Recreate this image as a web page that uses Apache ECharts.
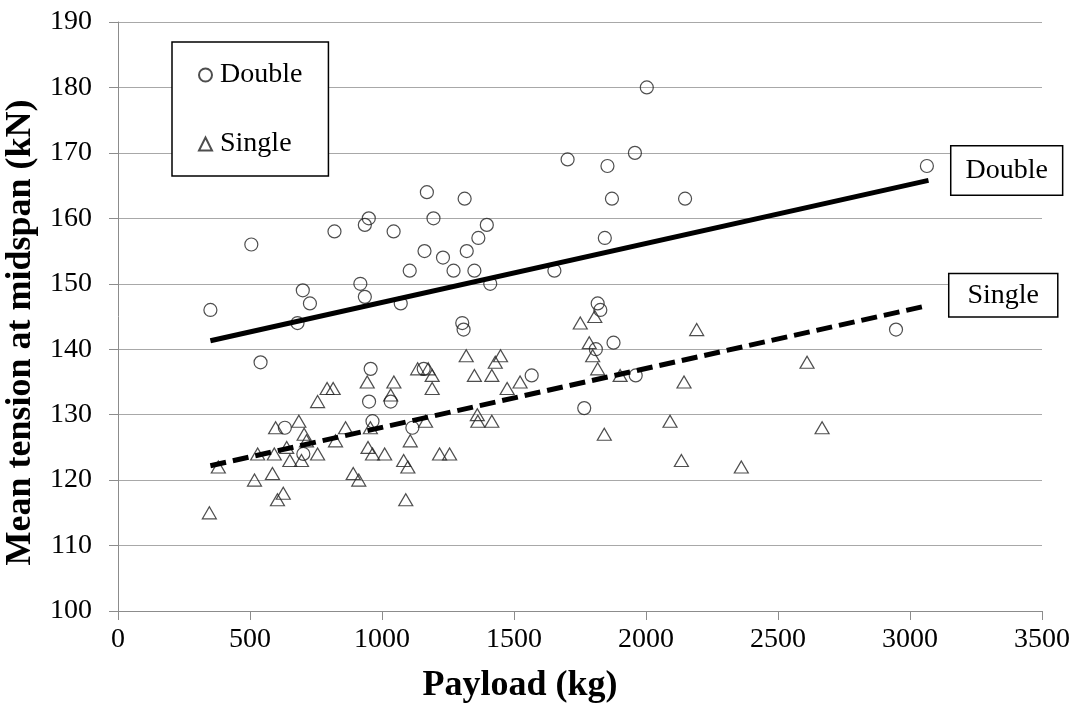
<!DOCTYPE html>
<html><head><meta charset="utf-8">
<script src="https://cdn.jsdelivr.net/npm/echarts@6/dist/echarts.min.js"></script>
<style>html,body{margin:0;padding:0;background:#fff}#c{width:1081px;height:708px}</style>
</head><body><div id="c"></div><script>
// Double-configuration points: payload (kg) and mean tension (kN)
const doublePayload = [350,505,540,680,700,727,820,918,935,935,950,1044,1071,1105,1170,1161,1195,1231,1271,1304,1309,1313,1321,1350,1365,1397,1410,1653,1703,1817,1827,1844,1854,1871,1958,2003,2148,3064,2947,1877,1766,1961,1567,1810,957,951,964,1033,1158,632,702,1115];
const doubleTension = [146,156,138,144,149,147,158,150,148,159,160,158,147,152,164,155,160,154,152,144,143,163,155,152,157,159,150,152,169,147,146,157,168,163,170,180,163,168,143,141,131,136,136,140,137,132,129,132,137,128,124,128];
// Single-configuration points
const singlePayload = [346,380,517,529,585,592,597,604,626,639,651,685,695,705,714,756,756,792,815,824,862,891,912,944,956,947,964,1010,1045,1033,1082,1098,1090,1107,1135,1165,1175,1190,1190,1218,1256,1319,1350,1361,1363,1416,1416,1429,1449,1474,1523,1751,1806,1785,1798,1817,1902,1842,2091,2134,2144,2192,2361,2610,2667];
const singleTension = [115,122,120,124,121,124,128,117,118,125,123,129,123,127,126,132,124,134,134,126,128,121,120,135,128,125,124,124,135,133,123,122,117,126,137,129,137,136,134,124,124,139,136,130,129,136,129,138,139,134,135,144,145,141,139,137,136,127,129,123,135,143,122,138,128];
// Trend line end points
const trendPayload = [350, 3070];
const doubleTrend = [141.3, 165.8];
const singleTrend = [122.2, 146.7];
const seriesNames = ['Double', 'Single'];
const xTitle = 'Payload (kg)';
const yTitle = 'Mean tension at midspan (kN)';

const FONT = 'Liberation Serif';
const zip = (a, b) => a.map((v, i) => [v, b[i]]);
const axisGray = '#8c8c8c';
const gridGray = '#a8a8a8';

const boxLabel = (text, pad, dist) => ({
  show: true,
  formatter: () => text,
  fontFamily: FONT, fontSize: 28, color: '#000',
  backgroundColor: '#fff', borderColor: '#000', borderWidth: 1.5,
  padding: pad, lineHeight: 32,
  distance: dist, offset: [0, -10]
});

const chart = echarts.init(document.getElementById('c'), null, {renderer: 'canvas'});
chart.setOption({
  animation: false,
  backgroundColor: '#fff',
  grid: {left: 118, right: 39, top: 22, bottom: 97, containLabel: false, outerBoundsMode: 'none'},
  legend: {
    data: seriesNames,
    orient: 'vertical', left: 172, top: 42,
    backgroundColor: '#fff', borderColor: '#000', borderWidth: 1.5,
    padding: [19, 26, 18, 26], itemGap: 41,
    itemWidth: 13, itemHeight: 13,
    selectedMode: false,
    textStyle: {fontFamily: FONT, fontSize: 28, color: '#000', padding: [0, 0, 0, 3]}
  },
  xAxis: {
    type: 'value', min: 0, max: 3500, interval: 500,
    axisLine: {show: true, lineStyle: {color: axisGray, width: 1}},
    axisTick: {show: true, length: 9, inside: false, lineStyle: {color: axisGray}},
    splitLine: {show: false},
    axisLabel: {fontFamily: FONT, fontSize: 28, color: '#000', margin: 15, formatter: v => String(v)},
    name: xTitle, nameLocation: 'middle', nameGap: 57,
    nameTextStyle: {fontFamily: FONT, fontSize: 36, fontWeight: 'bold', color: '#000', padding: [0, 120, 0, 0]}
  },
  yAxis: {
    type: 'value', min: 100, max: 190, interval: 10,
    axisLine: {show: true, lineStyle: {color: axisGray, width: 1}},
    axisTick: {show: true, length: 9, inside: false, lineStyle: {color: axisGray}},
    splitLine: {show: true, lineStyle: {color: gridGray, width: 1}},
    axisLabel: {fontFamily: FONT, fontSize: 28, color: '#000', margin: 26, formatter: v => String(v)},
    name: yTitle, nameLocation: 'middle', nameGap: 71,
    nameTextStyle: {fontFamily: FONT, fontSize: 36, fontWeight: 'bold', color: '#000', padding: [0, 32, 0, 0]}
  },
  series: [
    {
      name: seriesNames[0], type: 'scatter', symbol: 'circle', symbolSize: 13,
      data: zip(doublePayload, doubleTension),
      itemStyle: {color: 'rgba(255,255,255,0)', borderColor: '#222', borderWidth: 1.2},
      emphasis: {disabled: true}, z: 2
    },
    {
      name: seriesNames[1], type: 'scatter', symbol: 'triangle', symbolSize: [14, 12],
      data: zip(singlePayload, singleTension),
      itemStyle: {color: 'rgba(255,255,255,0)', borderColor: '#222', borderWidth: 1.2},
      emphasis: {disabled: true}, z: 2
    },
    {
      name: 'DoubleTrend', type: 'line', symbol: 'none', clip: false,
      data: zip(trendPayload, doubleTrend),
      lineStyle: {color: '#000', width: 5},
      endLabel: boxLabel('Double', [8, 14], 23),
      emphasis: {disabled: true}, z: 3
    },
    {
      name: 'SingleTrend', type: 'line', symbol: 'none', clip: false,
      data: zip(trendPayload, singleTrend),
      lineStyle: {color: '#000', width: 5, type: [16, 7]},
      endLabel: boxLabel('Single', [5, 18], 21),
      emphasis: {disabled: true}, z: 3
    }
  ]
});
</script></body></html>
